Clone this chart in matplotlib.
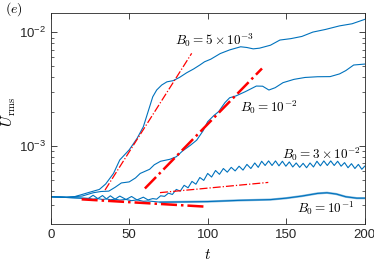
import matplotlib
matplotlib.use("Agg")
from matplotlib import pyplot as plt
import numpy as np

plt.rcParams['font.family'] = ['Liberation Sans', 'DejaVu Sans']
plt.rcParams['mathtext.fontset'] = 'cm'

# B0 = 5e-3
t1 = [0, 10, 15, 20, 25, 31, 35, 40, 44, 50, 55, 59, 61, 65, 67.5, 70.7, 74, 78, 82, 86.6,
      91, 95, 98, 102, 108, 114, 121, 125, 129, 133, 140, 146, 153, 160, 167, 175, 184, 192, 200]
u1 = [3.55, 3.52, 3.55, 3.72, 3.9, 4.12, 4.6, 5.7, 7.5, 9.2, 11.6, 14.7, 18, 27, 31, 34.3, 36.6, 37.5, 40, 44,
      47.5, 51.5, 55, 58, 65, 70, 74.6, 73.5, 71.5, 72.5, 77, 85.5, 88, 92, 100.5, 106, 114, 119, 130]

# B0 = 1e-2
t2 = [0, 10, 20, 27, 32, 37, 41, 45, 50, 54, 57, 63, 66, 70, 76, 80, 84, 89, 93, 97,
      100, 104, 107, 111, 114, 118, 124, 131, 135, 139, 143, 148, 155, 162, 170, 178, 184, 188, 193, 200]
u2 = [3.55, 3.52, 3.6, 3.85, 3.95, 3.98, 4.3, 4.7, 4.8, 5.2, 5.7, 6.2, 6.8, 7.3, 7.6, 8.0, 9.0, 10.1, 11.2, 13.5,
      16.3, 18.5, 20, 24, 26.5, 27.5, 30, 33.6, 33.5, 31, 32.5, 36, 38.5, 40, 40.6, 40.7, 43, 46, 51.5, 52.5]

# B0 = 3e-2 (oscillating)
t3 = [0, 10, 20, 24, 27, 30, 33, 35.5, 38, 41, 44, 48, 51.5, 55, 59, 62, 65, 67.5, 70, 72.5,
      75, 77.5, 80, 82.5, 85, 87.5, 90, 92.5, 95, 97.5, 100, 102.5, 105, 107.5, 110, 112.5, 115, 117.5,
      120, 122.5, 125, 127.5, 130, 132.2, 134.4, 136.6, 138.8, 141, 143.2, 145.4, 147.6, 149.8,
      152, 154.2, 156.4, 158.6, 160.8, 163, 165.2, 167.4, 169.6, 171.8, 174, 176.2, 178.4, 180.6,
      182.8, 185, 187.2, 189.4, 191.6, 193.8, 196, 198.2, 200]
u3 = [3.55, 3.5, 3.45, 3.43, 3.66, 3.42, 3.64, 3.4, 3.62, 3.38, 3.6, 3.36, 3.57, 3.33, 3.52, 3.33, 3.42, 3.38, 3.62, 3.58,
      3.82, 3.72, 4.12, 3.98, 4.48, 4.26, 4.85, 4.58, 5.25, 4.95, 5.7, 5.3, 6.05, 5.6, 6.3, 5.85, 6.45, 6.0,
      6.6, 6.1, 6.85, 6.3, 7.05, 6.45, 7.3, 6.7, 7.35, 6.7, 7.35, 6.65, 7.3, 6.6,
      7.2, 6.5, 7.05, 6.45, 7.0, 6.4, 7.05, 6.5, 7.3, 6.65, 7.35, 6.7, 7.35, 6.7,
      7.3, 6.6, 7.1, 6.4, 6.95, 6.3, 6.85, 6.2, 6.6]

# B0 = 1e-1
t4 = [0, 10, 20, 24, 27, 30, 33, 35.5, 38, 41, 44, 48, 51.5, 55, 59, 62, 70, 85, 100, 120,
      140, 150, 160, 170, 176, 182, 188, 195, 200]
u4 = [3.55, 3.5, 3.45, 3.43, 3.38, 3.42, 3.36, 3.4, 3.34, 3.38, 3.32, 3.36, 3.28, 3.33, 3.24, 3.26, 3.18, 3.2, 3.22, 3.3,
      3.35, 3.45, 3.6, 3.8, 3.85, 3.75, 3.55, 3.45, 3.45]

# fitted growth rates (end points)
fit_t = [[34.6, 89.8], [60, 134.6], [69.6, 138.6], [19.7, 99.4]]
fit_u = [[4.07, 65.3], [4.2, 48], [3.86, 4.75], [3.37, 2.9]]
fit_lw = [0.9, 1.8, 0.9, 1.8]

labels = [r'$B_0 = 5\times10^{-3}$', r'$B_0 = 10^{-2}$', r'$B_0 = 3\times10^{-2}$', r'$B_0 = 10^{-1}$']
label_t = [79.2, 120.8, 147.3, 156.9]
label_u = [85.5, 22, 8.45, 2.82]

blue = '#0072BD'
fig = plt.figure(figsize=(3.74, 2.59), dpi=100)
ax = fig.add_axes([0.1356, 0.134, 0.8394, 0.817])

scale = 1e-4
ax.plot(t1, np.array(u1) * scale, color=blue, lw=0.8)
ax.plot(t2, np.array(u2) * scale, color=blue, lw=0.8)
ax.plot(t3, np.array(u3) * scale, color=blue, lw=0.8)
ax.plot(t4, np.array(u4) * scale, color=blue, lw=0.8)
# fast oscillation band of the B0=1e-1 run
ax.plot(t4[16:], np.array(u4[16:]) * scale, color=blue, lw=1.6, alpha=0.5)

for ft, fu, lw in zip(fit_t, fit_u, fit_lw):
    ax.plot(ft, np.array(fu) * scale, color='r', ls='-.', lw=lw)

for lab, lt, lu in zip(labels, label_t, label_u):
    ax.text(lt, lu * scale, lab, fontsize=9.5, ha='left', va='center')

ax.set_yscale('log')
ax.set_xlim(0, 200)
ax.set_ylim(2.03e-4, 1.49e-2)
ax.set_xticks([0, 50, 100, 150, 200])
ax.tick_params(which='both', direction='in', top=True, right=True, colors='#262626', labelsize=9.5)
ax.tick_params(which='major', length=4, width=0.6)
ax.tick_params(which='minor', length=2, width=0.5)
for s in ax.spines.values():
    s.set_color('#262626')
    s.set_linewidth(0.6)

ax.set_xlabel(r'$t$', fontsize=11)
ax.xaxis.set_label_coords(0.5, -0.112)
ax.set_ylabel(r'$\overline{U}_{\rm rms}$', fontsize=11)
ax.yaxis.set_label_coords(-0.105, 0.53)
fig.text(0.013, 0.965, r'$(e)$', fontsize=10, va='center', ha='left')

fig.savefig('out.png', dpi=100)
